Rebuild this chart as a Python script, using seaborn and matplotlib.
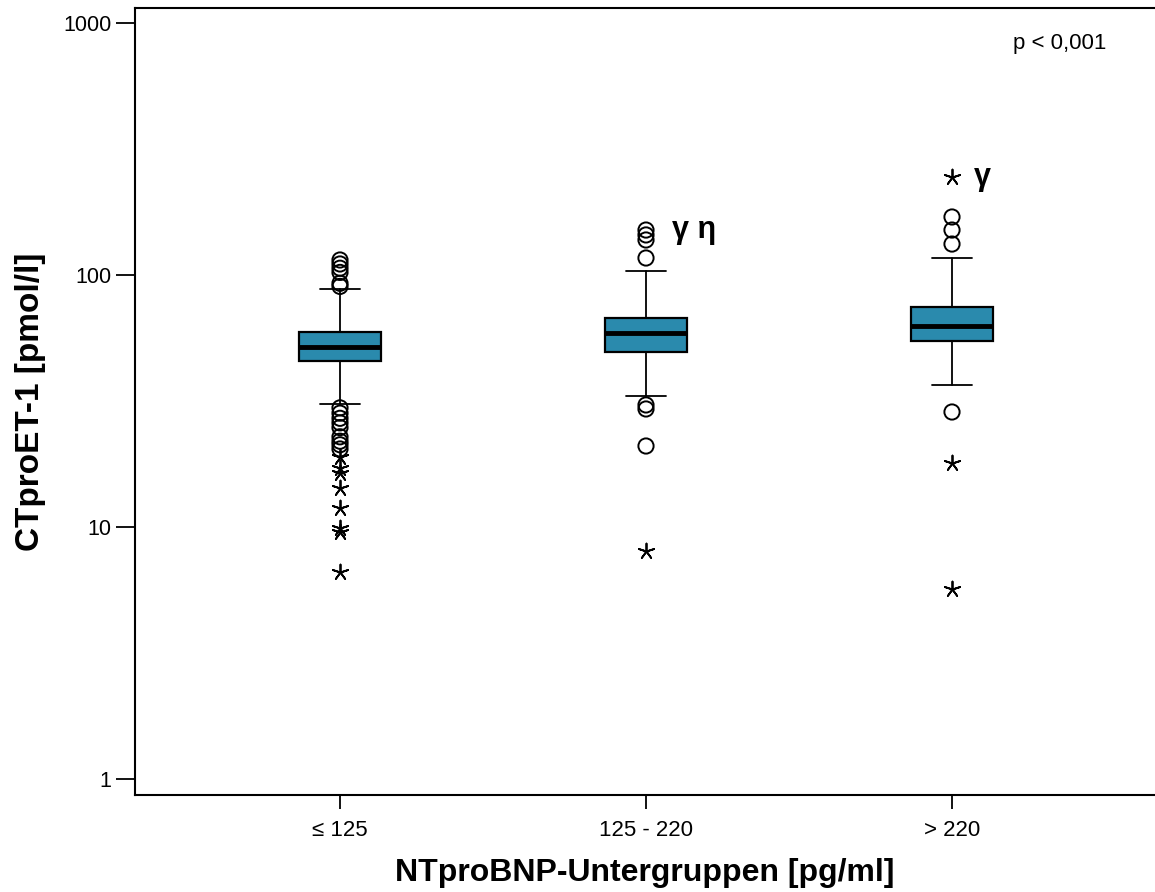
import numpy as np
import pandas as pd
import matplotlib
matplotlib.use("Agg")
import matplotlib.pyplot as plt
from matplotlib.ticker import NullLocator, FixedLocator, FixedFormatter
import seaborn as sns

# ---------------- data ----------------
categories = ["≤ 125", "125 - 220", "> 220"]
q1 = [45.6, 49.5, 54.7]
medians = [51.8, 58.9, 62.7]
q3 = [59.4, 67.5, 74.6]
whisker_low = [30.8, 33.1, 36.6]
whisker_high = [88.0, 103.7, 116.8]

# mild outliers (circles)
outliers_g1 = [114.7, 110.6, 106.4, 102.4, 92.7, 90.1,
               29.7, 28.3, 27.0, 25.9, 24.8, 22.8, 21.9, 21.2, 20.4]
outliers_g2 = [150.8, 144.2, 137.7, 116.8, 30.5, 29.4, 20.96]
outliers_g3 = [169.9, 150.8, 132.7, 28.6]

# extreme values (stars)
extremes_g1 = [18.96, 17.15, 16.4, 14.3, 11.9, 9.91, 9.55, 6.63]
extremes_g2 = [8.04]
extremes_g3 = [244.8, 17.95, 5.68]

annotations = ["", "γ η", "γ"]
p_text = "p < 0,001"
x_label = "NTproBNP-Untergruppen [pg/ml]"
y_label = "CTproET-1 [pmol/l]"
y_ticks = [1, 10, 100, 1000]

box_color = "#2a8aad"

# ---------------- figure ----------------
sns.set_style("ticks")
plt.rcParams["font.family"] = ["Liberation Sans", "DejaVu Sans"]
plt.rcParams["text.color"] = "black"
plt.rcParams["axes.labelcolor"] = "black"
plt.rcParams["xtick.color"] = "black"
plt.rcParams["ytick.color"] = "black"

W, H = 1155, 892
fig = plt.figure(figsize=(W / 100, H / 100), dpi=100)
ax = fig.add_axes([135 / W, 97 / H, 1 - 135 / W, (795 - 8) / H])

stats = []
for i in range(len(categories)):
    stats.append(dict(med=medians[i], q1=q1[i], q3=q3[i],
                      whislo=whisker_low[i], whishi=whisker_high[i],
                      fliers=[], label=categories[i]))

ax.bxp(stats, positions=range(len(categories)), widths=0.27,
       showfliers=False, patch_artist=True, capwidths=0.13,
       boxprops=dict(facecolor=box_color, edgecolor="black", linewidth=1.6),
       medianprops=dict(color="black", linewidth=3.5),
       whiskerprops=dict(color="black", linewidth=1.3),
       capprops=dict(color="black", linewidth=1.3))

circ = pd.DataFrame({
    "pos": [0] * len(outliers_g1) + [1] * len(outliers_g2) + [2] * len(outliers_g3),
    "value": outliers_g1 + outliers_g2 + outliers_g3,
})
ext = pd.DataFrame({
    "pos": [0] * len(extremes_g1) + [1] * len(extremes_g2) + [2] * len(extremes_g3),
    "value": extremes_g1 + extremes_g2 + extremes_g3,
})

sns.scatterplot(data=circ, x="pos", y="value", marker="o", s=120,
                color="black", linewidth=1.4, ax=ax, zorder=5)
coll = ax.collections[-1]
coll.set_facecolor("none")
coll.set_edgecolor("black")

sns.scatterplot(data=ext, x="pos", y="value", marker=(5, 2, 0), s=130,
                color="black", linewidth=1.3, ax=ax, zorder=5)

ax.set_yscale("log")
ax.set_ylim(10 ** (-16 / 252), 10 ** (3 + 15 / 252))
ax.set_xlim(-(340 - 135) / 306, 2 + (1155 - 952) / 306)

ax.yaxis.set_major_locator(FixedLocator(y_ticks))
ax.yaxis.set_major_formatter(FixedFormatter([str(t) for t in y_ticks]))
ax.yaxis.set_minor_locator(NullLocator())
ax.set_xticks(range(len(categories)))
ax.set_xticklabels(categories)

ax.tick_params(axis="y", length=14, width=1.3, labelsize=15.5, pad=3, direction="out")
ax.tick_params(axis="x", length=10, width=1.3, labelsize=16, pad=8, direction="out")

for s in ["left", "top", "bottom"]:
    ax.spines[s].set_linewidth(1.5)
    ax.spines[s].set_color("black")
ax.spines["right"].set_visible(False)

ax.set_xlabel(x_label, fontsize=23, fontweight="bold", labelpad=12)
ax.set_ylabel(y_label, fontsize=24, fontweight="bold", labelpad=12)

# group annotations, placed next to the highest point of each group
tops = [max(outliers_g1 + extremes_g1), max(outliers_g2 + extremes_g2),
        max(outliers_g3 + extremes_g3)]
offsets = [0, 19, 16]
for i, txt in enumerate(annotations):
    if txt:
        ax.annotate(txt, xy=(i, tops[i]), xytext=(offsets[i], 0),
                    textcoords="offset points",
                    fontsize=22, fontweight="bold", va="center", ha="left")

ax.text(0.907, 0.955, p_text, transform=ax.transAxes, fontsize=16,
        ha="center", va="center")

fig.savefig("out.png", dpi=100)
